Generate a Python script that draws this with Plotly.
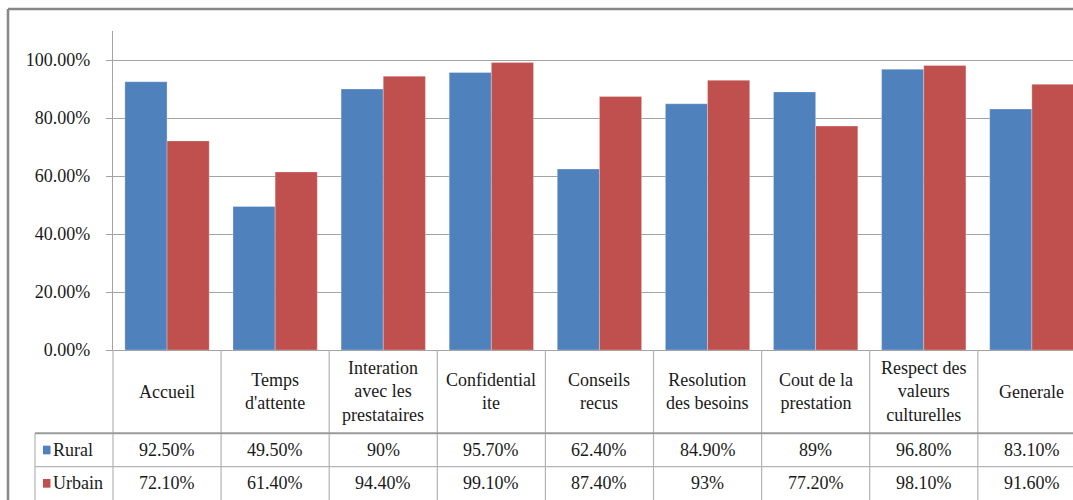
import plotly.graph_objects as go

# ---------------- data ----------------
categories = ["Accueil", "Temps d'attente", "Interation avec les prestataires",
              "Confidentialite", "Conseils recus", "Resolution des besoins",
              "Cout de la prestation", "Respect des valeurs culturelles", "Generale"]
header_labels = ["Accueil", "Temps<br>d'attente", "Interation<br>avec les<br>prestataires",
                 "Confidential<br>ite", "Conseils<br>recus", "Resolution<br>des besoins",
                 "Cout de la<br>prestation", "Respect des<br>valeurs<br>culturelles", "Generale"]
series_names = ["Rural", "Urbain"]
rural = [92.5, 49.5, 90, 95.7, 62.4, 84.9, 89, 96.8, 83.1]
urbain = [72.1, 61.4, 94.4, 99.1, 87.4, 93, 77.2, 98.1, 91.6]
series_values = [rural, urbain]
colors = ["#4F81BD", "#C0504D"]
y_tick_values = [0, 0.2, 0.4, 0.6, 0.8, 1.0]

# ---------------- layout constants ----------------
W, H = 1073, 500
FONT = "Liberation Serif"
FS = 18
TXT = "#1a1a1a"
GRID = "#a3a3a3"
TLINE = "#b4b4b4"
x_left_px = 113          # y-axis position
cat_w_px = 108.1         # width of one category
y_top_px, y_zero_px = 31, 350

def fmt(v):
    return f"{v:g}%" if float(v).is_integer() else f"{v:.2f}%"

fig = go.Figure()
for name, vals, col in zip(series_names, series_values, colors):
    fig.add_trace(go.Bar(
        x=categories, y=[v / 100 for v in vals], name=name,
        marker=dict(color=col, line=dict(color="rgba(255,255,255,0.35)", width=0.8)),
        showlegend=False, hoverinfo="skip"))
# helper (empty) trace so the table axis exists
fig.add_trace(go.Scatter(x=[], y=[], yaxis="y2", showlegend=False, hoverinfo="skip"))

plot_w = W - x_left_px
x_max = -0.5 + plot_w / cat_w_px

shapes = []
annotations = []

# outer chart frame (left and top edges visible)
shapes.append(dict(type="line", xref="paper", yref="paper", x0=8 / W, x1=8 / W,
                   y0=-0.01, y1=1 - 9 / H, line=dict(color="#878787", width=2.5)))
shapes.append(dict(type="line", xref="paper", yref="paper", x0=8 / W, x1=1.01,
                   y0=1 - 9 / H, y1=1 - 9 / H, line=dict(color="#878787", width=2.5)))

# data table (rows on the y2 axis: header 0..2.5, Rural 2.5..3.5, Urbain 3.5..4.5)
label_col_left = (35 - x_left_px) / plot_w
shapes.append(dict(type="line", xref="x domain", yref="y2", x0=0, x1=0, y0=0, y1=4.6,
                   line=dict(color=TLINE, width=1.2)))
for i in range(1, len(categories)):
    shapes.append(dict(type="line", xref="x", yref="y2", x0=i - 0.5, x1=i - 0.5,
                       y0=0, y1=4.6, line=dict(color=TLINE, width=1.2)))
shapes.append(dict(type="line", xref="x domain", yref="y2", x0=label_col_left,
                   x1=label_col_left, y0=2.5, y1=4.6, line=dict(color=TLINE, width=1.2)))
shapes.append(dict(type="line", xref="x domain", yref="y2", x0=label_col_left, x1=1,
                   y0=2.5, y1=2.5, line=dict(color="#9a9a9a", width=2)))
shapes.append(dict(type="line", xref="x domain", yref="y2", x0=label_col_left, x1=1,
                   y0=3.5, y1=3.5, line=dict(color=TLINE, width=1.2)))

for cat, lab in zip(categories, header_labels):
    annotations.append(dict(xref="x", yref="y2", x=cat, y=1.25, text=lab, showarrow=False,
                            font=dict(family=FONT, size=FS, color=TXT),
                            xanchor="center", yanchor="middle", align="center"))
for r, (name, vals, col) in enumerate(zip(series_names, series_values, colors)):
    yc = 3.0 + r
    for cat, v in zip(categories, vals):
        annotations.append(dict(xref="x", yref="y2", x=cat, y=yc, text=fmt(v),
                                showarrow=False, font=dict(family=FONT, size=FS, color=TXT),
                                xanchor="center", yanchor="middle"))
    shapes.append(dict(type="rect", xref="x domain", yref="y2",
                       x0=(43 - x_left_px) / plot_w, x1=(50.5 - x_left_px) / plot_w,
                       y0=yc - 0.13, y1=yc + 0.13, fillcolor=col, line=dict(width=0)))
    annotations.append(dict(xref="x domain", yref="y2", x=(51 - x_left_px) / plot_w, y=yc,
                            text=name, showarrow=False,
                            font=dict(family=FONT, size=FS, color=TXT),
                            xanchor="left", yanchor="middle"))

y_dom0 = (H - y_zero_px) / H
y_dom1 = (H - y_top_px) / H

fig.update_layout(
    width=W, height=H, autosize=False,
    margin=dict(l=0, r=0, t=0, b=0, pad=0, autoexpand=False),
    paper_bgcolor="white", plot_bgcolor="white",
    barmode="group", bargap=0.22, bargroupgap=0,
    font=dict(family=FONT, size=FS, color=TXT),
    xaxis=dict(domain=[x_left_px / W, 1], range=[-0.5, x_max], showticklabels=False,
               ticks="", showgrid=False, zeroline=False, showline=True,
               linecolor=GRID, linewidth=1.2, anchor="y", fixedrange=True),
    yaxis=dict(domain=[y_dom0, y_dom1], range=[0, 1.1], tickvals=y_tick_values,
               tickformat=".2%", showgrid=True, gridcolor=GRID, gridwidth=1.2,
               zeroline=False, showline=True, linecolor=GRID, linewidth=1.2,
               ticks="outside", ticklen=6, tickcolor=GRID, tickwidth=1.2,
               ticklabelstandoff=12, anchor="x",
               tickfont=dict(family=FONT, size=FS, color=TXT), fixedrange=True),
    yaxis2=dict(domain=[0, y_dom0], range=[4.5, 0], visible=False, anchor="x",
                showgrid=False, zeroline=False, fixedrange=True),
    shapes=shapes, annotations=annotations,
)

fig.write_html("out.html", config={"responsive": False})
